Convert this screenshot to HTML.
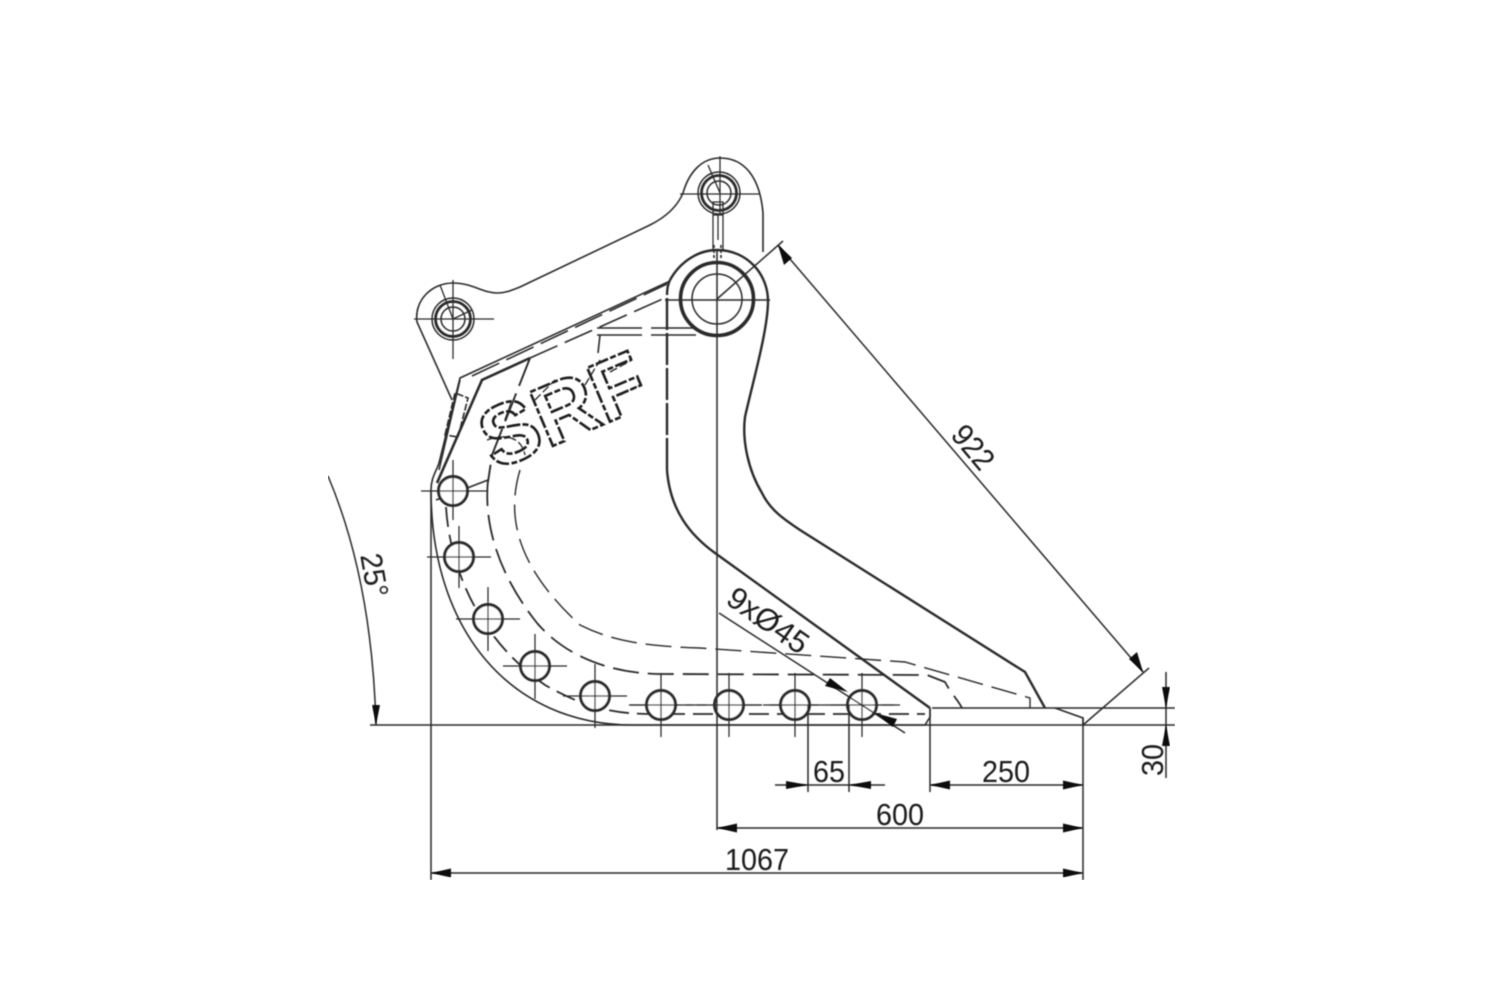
<!DOCTYPE html>
<html><head><meta charset="utf-8"><style>html,body{margin:0;padding:0;background:#fff}svg{display:block}
text{font-family:"Liberation Sans",sans-serif;font-size:31px;fill:#1a1a1a;text-anchor:middle}</style></head>
<body>
<svg width="1500" height="1000" viewBox="0 0 1500 1000" xmlns="http://www.w3.org/2000/svg">
<defs><filter id="b" x="0" y="0" width="100%" height="100%"><feGaussianBlur stdDeviation="0.5"/></filter></defs>
<rect width="1500" height="1000" fill="#fff"/>
<g filter="url(#b)" fill="none" stroke="#2a2a2a" stroke-width="1.6">
<!-- outer plate -->
<path d="M452 400L417 322C414 300 432 283 453 283C472 283 483 293 497 293C505 293 510 291 520 287L650 225C668 216 678 205 683 193C689 172 702 158 720 158C745 158 760 178 763 213L763 252"/>
<path d="M670 280C680 262 698 250 717 250C747 250 768 274 768 301C768 330 752 385 745 417C742 440 748 470 762 493C770 510 785 520 800 530L1025 672L1045 708" stroke-width="2.4"/>
<path d="M667 470L667 295C667 288 668 284 670 280" stroke-width="2.4" stroke-dasharray="32 3"/>
<path d="M667 470C670 510 690 535 715 553L930 708" stroke-width="2.4"/>
<path d="M930 708L930 717L925 725L633 725C510 725 431 630 431 490C431 478 436 472 439 463L460 378L670 281"/>
<path d="M1055 708L1083 718L1083 725M932 708L1045 708"/>
<path d="M439 470L460 380"/>
<path d="M445 435L455 393L468 398L458 437Z" stroke-dasharray="7 2"/>
<!-- thick & dashed inner top -->
<path d="M437 483L482 380L530 358" stroke-width="2.6"/>
<path d="M472 376L667 284" stroke-dasharray="30 8"/>
<path d="M530 358L667 297" stroke-dasharray="30 8"/>
<path d="M530 358L492 455L488 482" stroke-dasharray="30 8" stroke-width="1.9"/>
<path d="M597 328L697 328M597 335L697 335" stroke-dasharray="45 9"/>
<path d="M600 335L598 353"/>
<path d="M436 500L488 480"/>
<!-- dashed inner band -->
<path d="M488 480C484 520 495 570 537 623C560 650 600 673 660 674L927 675L945 682C952 695 958 700 962 708" stroke-dasharray="26 9" stroke-width="1.8"/>
<path d="M520 470C505 520 520 570 580 625C610 640 640 646 700 648L905 662L1030 698L1030 708" stroke-dasharray="26 9" stroke-width="1.4"/>
<path d="M446 507C450 570 480 640 545 685C580 705 610 714 650 714L925 714" stroke-dasharray="20 8" stroke-width="1.8"/>
<path d="M630 705L900 705" stroke-dasharray="20 8" stroke-width="1.3"/>
<!-- holes -->
<g stroke-width="3" fill="#fff">
<circle cx="453" cy="491" r="14.5"/><circle cx="459" cy="557" r="14.5"/><circle cx="488" cy="619" r="14.5"/>
<circle cx="535" cy="666" r="14.5"/><circle cx="595" cy="696" r="14.5"/><circle cx="661" cy="705" r="14.5"/>
<circle cx="729" cy="705" r="14.5"/><circle cx="795" cy="705" r="14.5"/><circle cx="862" cy="705" r="14.5"/>
</g>
<g stroke-width="1.3">
<path d="M421 491H487M453 460V520"/><path d="M427 557H491M459 526V588"/><path d="M456 619H520M488 587V651"/>
<path d="M503 666H567M535 634V699"/><path d="M563 696H627M595 664V728"/><path d="M629 705H693M661 673V737"/>
<path d="M697 705H761M729 673V737"/><path d="M763 705H827M795 673V737"/><path d="M830 705H894M862 673V737"/>
</g>
<!-- pins -->
<g stroke-width="1.5"><circle cx="453" cy="319" r="21"/><circle cx="453" cy="319" r="12"/></g>
<circle cx="453" cy="319" r="17.5" stroke-width="2.8"/>
<g stroke-width="1.5"><circle cx="719" cy="193" r="21"/><circle cx="719" cy="193" r="12"/></g>
<circle cx="719" cy="193" r="17.5" stroke-width="2.8"/>
<path d="M414 319H494M453 280V359M440 285L453 319L472 310" stroke-width="1.3"/>
<path d="M680 194H760M720 156V215M708 165L720 193" stroke-width="1.3"/>
<path d="M713 202H723V215H713ZM713 215V250M723 215V250M718 215V240" stroke-width="1.3"/>
<path d="M714 245V258M721 245V258" stroke-dasharray="3 2" stroke-width="1.6"/>
<circle cx="717" cy="299" r="36.5" stroke-width="3.6"/>
<circle cx="717" cy="299" r="25" stroke-width="1.5"/>
<path d="M665 300H770M717 250V352" stroke-width="1.5"/>
<!-- dimension lines -->
<g stroke-width="1.5">
<path d="M370 725H1175M1045 708H1175M431 490V880M717 352V830M930 708V792M1083 718V880M808 705V792M849 705V792"/>
<path d="M775 785H885M930 785H1083M717 828H1083M431 873H1083M1166 672V778"/>
<path d="M717 299L783 241M1083 725L1149 668M778 245L1143 672"/>
<path d="M328 476Q372 580 376 725"/>
<path d="M719 613L905 733"/>
</g>
</g>
<!-- arrowheads -->
<g fill="#111" filter="url(#b)">
<path d="M808 785l-22-4v8z"/><path d="M849 785l22-4v8z"/>
<path d="M930 785l20-4.500v9z"/><path d="M1083 785l-20-4.500v9z"/>
<path d="M717 828l20-4.500v9z"/><path d="M1083 828l-20-4.500v9z"/>
<path d="M431 873l20-4.500v9z"/><path d="M1083 873l-20-4.500v9z"/>
<path d="M1166 708l-4-21h8z"/><path d="M1166 725l-4 21h8z"/>
<path d="M778 245l6 20 8-7z"/><path d="M1143 672l-6-20-8 7z"/>
<path d="M376 725l-4-20h8z"/>
<path d="M848 692l-18-14-5 8z"/><path d="M875 713l18 14 4-8z"/>
</g>
<!-- SRF logo -->
<g filter="url(#b)">
<text transform="translate(574 437) rotate(-23) scale(1 1.18)" textLength="172" lengthAdjust="spacingAndGlyphs" style="font-size:72px;font-weight:bold;fill:none;stroke:#1a1a1a;stroke-width:2.2;stroke-dasharray:11 2 5 2">SRF</text>
<path d="M505 420L512 400M487 440C510 432 522 440 525 455M535 400L555 380M585 385L600 360M610 372L632 360M620 395L640 385" fill="none" stroke="#222" stroke-width="1.3" stroke-dasharray="8 3"/>
<!-- dimension labels -->
<text x="829" y="782" textLength="32" lengthAdjust="spacingAndGlyphs">65</text>
<text x="1006" y="782" textLength="48" lengthAdjust="spacingAndGlyphs">250</text>
<text x="900" y="825" textLength="48" lengthAdjust="spacingAndGlyphs">600</text>
<text x="757" y="870" textLength="64" lengthAdjust="spacingAndGlyphs">1067</text>
<text transform="translate(1163 760) rotate(-90)" textLength="32" lengthAdjust="spacingAndGlyphs">30</text>
<text transform="translate(965 454) rotate(50)" textLength="48" lengthAdjust="spacingAndGlyphs">922</text>
<text transform="translate(364 577) rotate(80)" textLength="44" lengthAdjust="spacingAndGlyphs">25°</text>
<text transform="translate(762 629) rotate(35)" textLength="92" lengthAdjust="spacingAndGlyphs">9xØ45</text>
</g>
</svg>
</body></html>
